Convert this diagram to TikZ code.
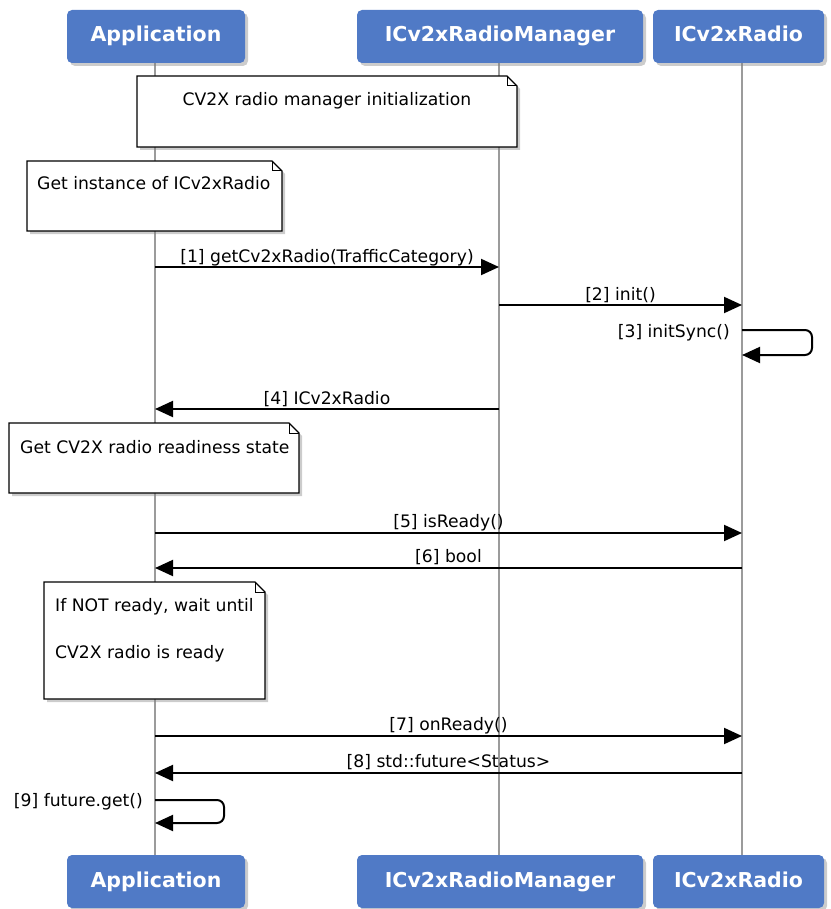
\documentclass[tikz,border=0pt]{standalone}
\usepackage{fontspec}
\setmainfont{DejaVu Sans}
\usetikzlibrary{shadows,arrows.meta}
\definecolor{hdrblue}{RGB}{80,122,198}
\definecolor{lifegray}{RGB}{155,155,155}
\newcommand\mynote[4]{%
  \draw[notebox] (#1,#2) -- ({#3-10},#2) -- (#3,{#2+10}) -- (#3,#4) -- (#1,#4) -- cycle;
  \draw[line width=1pt] ({#3-10},#2) -- ({#3-10},{#2+10}) -- (#3,{#2+10});}
\begin{document}
\begin{tikzpicture}[x=1pt,y=-1pt,
  hdr/.style={draw=none, fill=hdrblue, rounded corners=5pt, text=white,
    font=\bfseries\fontsize{20.5}{24}\selectfont, minimum height=53pt, inner sep=0pt,
    text height=15pt, text depth=4pt,
    drop shadow={shadow xshift=3pt,shadow yshift=-3pt,opacity=0.4}},
  notebox/.style={fill=white, draw=black, line width=1.3pt,
    drop shadow={shadow xshift=3pt,shadow yshift=-3pt,opacity=0.4}},
  ntxt/.style={font=\fontsize{17.2}{20}\selectfont, inner sep=0pt},
  msg/.style={font=\fontsize{17.2}{20}\selectfont, inner sep=0pt},
  life/.style={draw=lifegray, line width=2pt},
  arr/.style={line width=2pt, -{Triangle[length=18pt,width=16pt]}},
  loopl/.style={line width=2pt, rounded corners=7pt, -{Triangle[length=18pt,width=16pt]}}]
\useasboundingbox (0,0) rectangle (830,909);
% lifelines
\coordinate (la0) at (155,63); \coordinate (la1) at (155,855);
\coordinate (lm0) at (499,63); \coordinate (lm1) at (499,855);
\coordinate (lr0) at (742,63); \coordinate (lr1) at (742,855);
\draw[life] (la0) -- (la1);
\draw[life] (lm0) -- (lm1);
\draw[life] (lr0) -- (lr1);
% notes
\mynote{137}{76}{517}{147}
\node[ntxt, anchor=base] (n1) at (327,106) {CV2X radio manager initialization};
\mynote{27}{161}{282}{231}
\node[ntxt, anchor=base west] (n2) at (37,190) {Get instance of ICv2xRadio};
\mynote{9}{423}{299}{493}
\node[ntxt, anchor=base west] (n3) at (20,453) {Get CV2X radio readiness state};
\mynote{44}{582}{265}{699}
\node[ntxt, anchor=base west] (n4a) at (55,611) {If NOT ready, wait until};
\node[ntxt, anchor=base west] (n4b) at (55,658) {CV2X radio is ready};
% messages
\coordinate (m1a) at (155,267); \coordinate (m1b) at (499,267);
\draw[arr] (m1a) -- (m1b) node[msg, pos=0.5, anchor=base, yshift=5pt] (t1) {[1] getCv2xRadio(TrafficCategory)};
\coordinate (m2a) at (499,305); \coordinate (m2b) at (742,305);
\draw[arr] (m2a) -- (m2b) node[msg, pos=0.5, anchor=base, yshift=5pt] (t2) {[2] init()};
\coordinate (m3a) at (742,330); \coordinate (m3b) at (742,355);
\draw[loopl] (m3a) -- (812,330) -- (812,355) -- (m3b);
\node[msg, anchor=base east] (t3) at (730,337) {[3] initSync()};
\coordinate (m4a) at (499,409); \coordinate (m4b) at (155,409);
\draw[arr] (m4a) -- (m4b) node[msg, pos=0.5, anchor=base, yshift=5pt] (t4) {[4] ICv2xRadio};
\coordinate (m5a) at (155,533); \coordinate (m5b) at (742,533);
\draw[arr] (m5a) -- (m5b) node[msg, pos=0.5, anchor=base, yshift=6pt] (t5) {[5] isReady()};
\coordinate (m6a) at (742,568); \coordinate (m6b) at (155,568);
\draw[arr] (m6a) -- (m6b) node[msg, pos=0.5, anchor=base, yshift=6pt] (t6) {[6] bool};
\coordinate (m7a) at (155,736); \coordinate (m7b) at (742,736);
\draw[arr] (m7a) -- (m7b) node[msg, pos=0.5, anchor=base, yshift=5.5pt] (t7) {[7] onReady()};
\coordinate (m8a) at (742,773); \coordinate (m8b) at (155,773);
\draw[arr] (m8a) -- (m8b) node[msg, pos=0.5, anchor=base, yshift=5.5pt] (t8) {[8] std::future<Status>};
\coordinate (m9a) at (155,800); \coordinate (m9b) at (155,823);
\draw[loopl] (m9a) -- (224,800) -- (224,823) -- (m9b);
\node[msg, anchor=base east] (t9) at (143,806) {[9] future.get()};
% headers
\node[hdr, minimum width=178pt] (apptop) at (156,36.5) {Application};
\node[hdr, minimum width=286pt] (mgrtop) at (500,36.5) {ICv2xRadioManager};
\node[hdr, minimum width=171pt] (radtop) at (738.5,36.5) {ICv2xRadio};
\node[hdr, minimum width=178pt] (appbot) at (156,881.5) {Application};
\node[hdr, minimum width=286pt] (mgrbot) at (500,881.5) {ICv2xRadioManager};
\node[hdr, minimum width=171pt] (radbot) at (738.5,881.5) {ICv2xRadio};
\end{tikzpicture}
\end{document}
